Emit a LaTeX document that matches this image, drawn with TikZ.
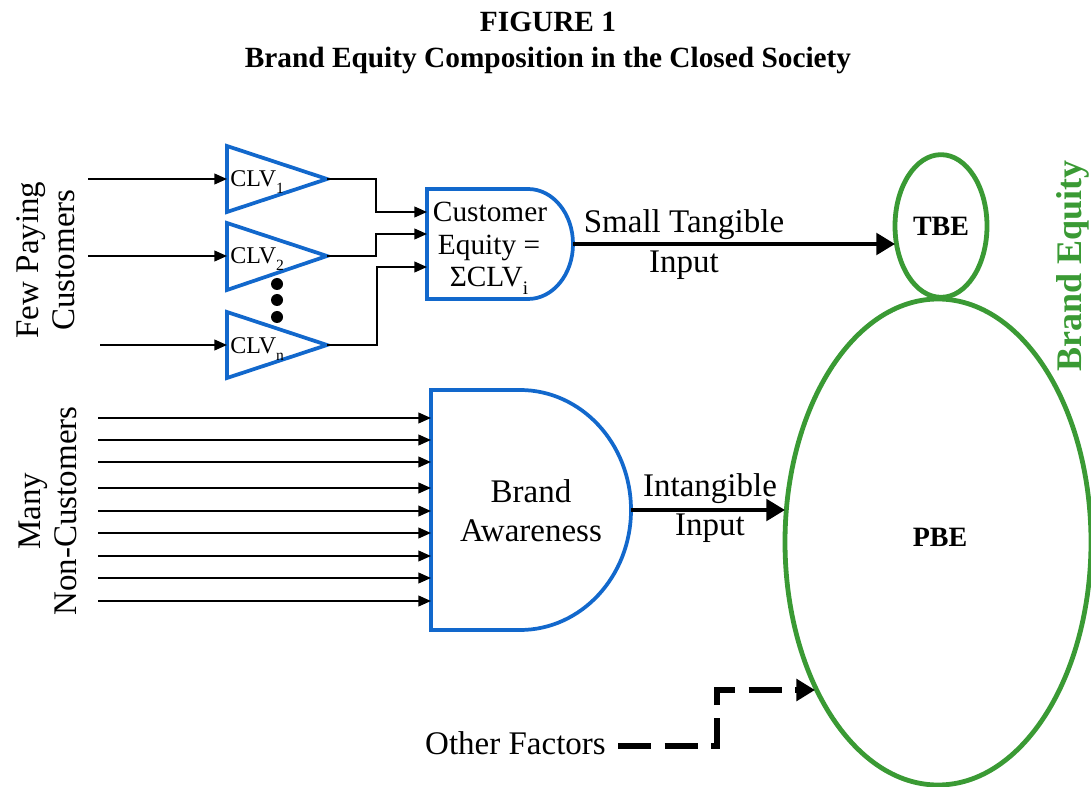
\documentclass[tikz,border=0pt]{standalone}
\usepackage{fontspec}
\setmainfont{Liberation Serif}
\usetikzlibrary{arrows.meta,shapes.geometric,calc}
\definecolor{gblue}{RGB}{18,104,204}
\definecolor{ggreen}{RGB}{58,154,52}
\newcommand{\lowsub}[1]{\raisebox{-0.55ex}{\scalebox{0.65}{#1}}}
\begin{document}
\begin{tikzpicture}[x=0.75pt,y=-0.75pt,
  blueshape/.style={draw=gblue,line width=2.8pt,line join=miter},
  greenell/.style={draw=ggreen,line width=3.6pt,ellipse,inner sep=0pt,outer sep=0pt},
  inarrow/.style={line width=1.5pt,-{Triangle[length=9.5pt,width=8pt]}},
  bigarrow/.style={line width=3.2pt,-{Triangle[length=14pt,width=16pt]}},
  dasharrow/.style={line width=3.8pt,dash pattern=on 25pt off 10pt,-{Triangle[length=14pt,width=16pt]}},
  bodytext/.style={font=\fontsize{24.75}{28}\selectfont,inner sep=0pt},
  cetext/.style={font=\fontsize{22}{26}\selectfont,inner sep=0pt},
  clvtext/.style={font=\fontsize{18}{20}\selectfont,inner sep=0pt,anchor=base west},
  titletext/.style={font=\bfseries\fontsize{22}{26}\selectfont,inner sep=0pt},
  sidetext/.style={font=\fontsize{24.75}{27}\selectfont,inner sep=0pt,rotate=90,align=center},
  dot/.style={circle,fill=black,inner sep=0pt,minimum size=9pt}
]
\useasboundingbox (0,0) rectangle (1091,787);

% Title
\node[titletext] (t1) at (548,22) {FIGURE 1};
\node[titletext] (t2) at (548,60) {Brand Equity Composition in the Closed Society};

% Side labels
\node[sidetext] (fpc) at (46,260) {Few Paying\\Customers};
\node[sidetext] (mnc) at (48,511) {Many\\Non-Customers};

% CLV triangles
\draw[blueshape] (227,146) -- (327,179) -- (227,212) -- cycle;
\draw[blueshape] (227,223) -- (327,256) -- (227,290) -- cycle;
\draw[blueshape] (227,312) -- (327,345) -- (227,378) -- cycle;
\coordinate (t1in) at (227,179);
\coordinate (t2in) at (227,256);
\coordinate (t3in) at (227,345);
\coordinate (t1out) at (327,179);
\coordinate (t2out) at (327,256);
\coordinate (t3out) at (327,345);
\node[clvtext] (clv1) at (230,187) {CLV\lowsub{1}};
\node[clvtext] (clv2) at (230,264) {CLV\lowsub{2}};
\node[clvtext] (clvn) at (230,354) {CLV\lowsub{n}};

% dots
\node[dot] (d1) at (277,284) {};
\node[dot] (d2) at (277,300) {};
\node[dot] (d3) at (277,317) {};

% customer inputs
\coordinate (c1) at (88,179);
\coordinate (c2) at (88,256);
\coordinate (c3) at (100,345);
\draw[inarrow] (c1) -- (t1in);
\draw[inarrow] (c2) -- (t2in);
\draw[inarrow] (c3) -- (t3in);

% Customer Equity shape
\draw[blueshape] (427,189) -- (528,189) .. controls (552.9,189) and (573,213.6) .. (573,244)
  .. controls (573,274.4) and (552.9,299) .. (528,299) -- (427,299) -- cycle;
\coordinate (ce1) at (427,212);
\coordinate (ce2) at (427,234);
\coordinate (ce3) at (427,267);
\coordinate (ceout) at (573,244);
\node[cetext] (cet1) at (490,212) {Customer};
\node[cetext] (cet2) at (489,248) {Equity =};
\node[cetext,anchor=base] (cet3) at (489,287) {ΣCLV\lowsub{i}};

\draw[inarrow] (t1out) -- ++(49,0) |- (ce1);
\draw[inarrow] (t2out) -- ++(49,0) |- (ce2);
\draw[inarrow] (t3out) -- ++(50,0) |- (ce3);

% Ellipses
\node[greenell,minimum width=69pt,minimum height=107pt,font=\bfseries\fontsize{21}{24}\selectfont] (tbe) at (941,226) {TBE};
\node[greenell,minimum width=229.5pt,minimum height=364.5pt] (pbe) at (938,542) {};
\node[font=\bfseries\fontsize{21}{24}\selectfont,inner sep=0pt] (pbet) at (940,537) {PBE};
\node[font=\bfseries\fontsize{27}{30}\selectfont,text=ggreen,rotate=90,inner sep=0pt] (be) at (1073,266) {Brand Equity};

% tangible arrow
\draw[bigarrow] (ceout) -- (ceout -| tbe.west);
\node[bodytext] (st1) at (684,225) {Small Tangible};
\node[bodytext] (st2) at (684,265) {Input};

% Brand Awareness shape
\draw[blueshape] (431,390) -- (520,390) .. controls (581.3,390) and (631,443.7) .. (631,510)
  .. controls (631,576.3) and (581.3,630) .. (520,630) -- (431,630) -- cycle;
\coordinate (baout) at (631,510);
\node[bodytext] (bat1) at (531,491) {Brand};
\node[bodytext] (bat2) at (531,531) {Awareness};

\foreach \yy [count=\i] in {418,440,462,488,511,533,556,578,601}{
  \coordinate (n\i) at (98,\yy);
  \coordinate (b\i) at (431,\yy);
  \draw[inarrow] (n\i) -- (b\i);
}

% intangible arrow
\draw[bigarrow] (baout) -- (baout -| pbe.west);
\node[bodytext] (it1) at (710,489) {Intangible};
\node[bodytext] (it2) at (710,528) {Input};

% Other factors
\node[bodytext,anchor=east] (of) at (606,743) {Other Factors};
\coordinate (ofstart) at (618,746);
\coordinate (ofend) at (815,690);
\draw[dasharrow] (ofstart) -- (717,746) -- (717,690) -- (ofend);
\end{tikzpicture}
\end{document}
